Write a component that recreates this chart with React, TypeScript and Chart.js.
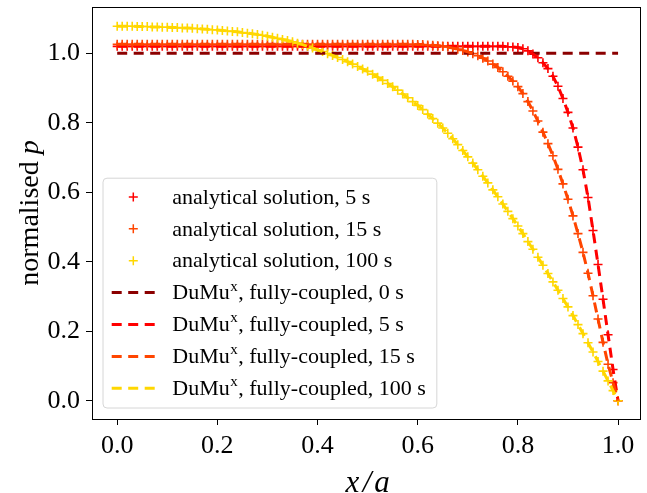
import React, { useEffect, useRef } from 'react';
import { Chart, registerables } from 'chart.js';

Chart.register(...registerables);

// ---------- data ----------
const xGrid = [
  0.00, 0.01, 0.02, 0.03, 0.04, 0.05, 0.06, 0.07, 0.08, 0.09,
  0.10, 0.11, 0.12, 0.13, 0.14, 0.15, 0.16, 0.17, 0.18, 0.19,
  0.20, 0.21, 0.22, 0.23, 0.24, 0.25, 0.26, 0.27, 0.28, 0.29,
  0.30, 0.31, 0.32, 0.33, 0.34, 0.35, 0.36, 0.37, 0.38, 0.39,
  0.40, 0.41, 0.42, 0.43, 0.44, 0.45, 0.46, 0.47, 0.48, 0.49,
  0.50, 0.51, 0.52, 0.53, 0.54, 0.55, 0.56, 0.57, 0.58, 0.59,
  0.60, 0.61, 0.62, 0.63, 0.64, 0.65, 0.66, 0.67, 0.68, 0.69,
  0.70, 0.71, 0.72, 0.73, 0.74, 0.75, 0.76, 0.77, 0.78, 0.79,
  0.80, 0.81, 0.82, 0.83, 0.84, 0.85, 0.86, 0.87, 0.88, 0.89,
  0.90, 0.91, 0.92, 0.93, 0.94, 0.95, 0.96, 0.97, 0.98, 0.99,
  1.00,
];

const analytical5s = [
  1.020, 1.020, 1.020, 1.020, 1.020, 1.020, 1.020, 1.020, 1.020, 1.020,
  1.020, 1.020, 1.020, 1.020, 1.020, 1.020, 1.020, 1.020, 1.020, 1.020,
  1.020, 1.020, 1.020, 1.020, 1.020, 1.020, 1.020, 1.020, 1.020, 1.020,
  1.020, 1.020, 1.020, 1.020, 1.020, 1.020, 1.020, 1.020, 1.020, 1.020,
  1.020, 1.020, 1.020, 1.020, 1.020, 1.020, 1.020, 1.020, 1.020, 1.020,
  1.020, 1.020, 1.020, 1.020, 1.020, 1.020, 1.020, 1.020, 1.020, 1.020,
  1.020, 1.020, 1.020, 1.020, 1.020, 1.020, 1.020, 1.020, 1.020, 1.020,
  1.020, 1.020, 1.020, 1.020, 1.020, 1.020, 1.020, 1.020, 1.019, 1.018,
  1.017, 1.013, 1.007, 0.998, 0.987, 0.973, 0.956, 0.934, 0.905, 0.870,
  0.830, 0.785, 0.730, 0.665, 0.585, 0.490, 0.392, 0.292, 0.190, 0.090,
  0.000,
];

const analytical15s = [
  1.026, 1.026, 1.026, 1.026, 1.026, 1.026, 1.026, 1.026, 1.026, 1.026,
  1.026, 1.026, 1.026, 1.026, 1.026, 1.026, 1.026, 1.026, 1.026, 1.026,
  1.026, 1.026, 1.026, 1.026, 1.026, 1.026, 1.026, 1.026, 1.026, 1.026,
  1.026, 1.026, 1.026, 1.026, 1.026, 1.026, 1.026, 1.026, 1.026, 1.026,
  1.026, 1.026, 1.026, 1.026, 1.026, 1.026, 1.026, 1.026, 1.026, 1.026,
  1.026, 1.026, 1.026, 1.026, 1.026, 1.026, 1.026, 1.026, 1.026, 1.026,
  1.025, 1.025, 1.024, 1.023, 1.022, 1.020, 1.018, 1.015, 1.012, 1.008,
  1.004, 0.999, 0.993, 0.986, 0.978, 0.969, 0.959, 0.947, 0.934, 0.920,
  0.904, 0.884, 0.861, 0.834, 0.805, 0.773, 0.740, 0.705, 0.666, 0.624,
  0.580, 0.532, 0.481, 0.427, 0.367, 0.302, 0.235, 0.168, 0.105, 0.052,
  0.000,
];

const analytical100s = [
  1.078, 1.078, 1.078, 1.078, 1.077, 1.077, 1.077, 1.076, 1.076, 1.075,
  1.075, 1.074, 1.074, 1.073, 1.073, 1.072, 1.071, 1.070, 1.069, 1.068,
  1.067, 1.066, 1.064, 1.063, 1.062, 1.060, 1.058, 1.056, 1.054, 1.052,
  1.049, 1.046, 1.043, 1.040, 1.037, 1.033, 1.029, 1.025, 1.020, 1.015,
  1.010, 1.005, 0.999, 0.994, 0.988, 0.982, 0.976, 0.969, 0.962, 0.955,
  0.948, 0.940, 0.931, 0.922, 0.913, 0.904, 0.894, 0.883, 0.872, 0.861,
  0.850, 0.838, 0.825, 0.812, 0.799, 0.785, 0.770, 0.754, 0.737, 0.720,
  0.702, 0.684, 0.665, 0.646, 0.627, 0.607, 0.587, 0.566, 0.545, 0.524,
  0.503, 0.481, 0.458, 0.436, 0.413, 0.390, 0.366, 0.342, 0.318, 0.294,
  0.270, 0.245, 0.219, 0.193, 0.167, 0.140, 0.113, 0.085, 0.057, 0.029,
  0.000,
];

// DuMux fully-coupled results (coincide with the analytical curves)
const dumux0sX = [0.0, 1.0];
const dumux0s = [1.0, 1.0];
const dumux5s = analytical5s;
const dumux15s = analytical15s;
const dumux100s = analytical100s;

const xTickValues = [0.0, 0.2, 0.4, 0.6, 0.8, 1.0];
const xTickLabels = ['0.0', '0.2', '0.4', '0.6', '0.8', '1.0'];
const yTickValues = [0.0, 0.2, 0.4, 0.6, 0.8, 1.0];
const yTickLabels = ['0.0', '0.2', '0.4', '0.6', '0.8', '1.0'];

const legendLabels = [
  'analytical solution, 5 s',
  'analytical solution, 15 s',
  'analytical solution, 100 s',
  ', fully-coupled, 0 s',
  ', fully-coupled, 5 s',
  ', fully-coupled, 15 s',
  ', fully-coupled, 100 s',
];

// ---------- styles ----------
const C_DARKRED = '#8b0000';
const C_RED = '#ff0000';
const C_ORANGERED = '#ff4500';
const C_GOLD = '#ffd700';
const SERIF = '"Liberation Serif", "DejaVu Serif", serif';

const X_MIN = -0.0503;
const X_MAX = 1.0456;
const Y_MIN = -0.0527;
const Y_MAX = 1.1333;

const DASH = [10, 6.5];

function pts(xs: number[], ys: number[]) {
  return xs.map((x, i) => ({ x, y: ys[i] }));
}

const legendItems = [
  { kind: 'marker', color: C_RED, dumux: false, text: legendLabels[0] },
  { kind: 'marker', color: C_ORANGERED, dumux: false, text: legendLabels[1] },
  { kind: 'marker', color: C_GOLD, dumux: false, text: legendLabels[2] },
  { kind: 'line', color: C_DARKRED, dumux: true, text: legendLabels[3] },
  { kind: 'line', color: C_RED, dumux: true, text: legendLabels[4] },
  { kind: 'line', color: C_ORANGERED, dumux: true, text: legendLabels[5] },
  { kind: 'line', color: C_GOLD, dumux: true, text: legendLabels[6] },
];

const decorPlugin = {
  id: 'decor',
  afterDraw(chart: any) {
    const ctx: CanvasRenderingContext2D = chart.ctx;
    const ca = chart.chartArea;
    ctx.save();

    // frame
    ctx.strokeStyle = '#000';
    ctx.lineWidth = 1;
    ctx.setLineDash([]);
    ctx.strokeRect(Math.round(ca.left) + 0.5, Math.round(ca.top) + 0.5,
      Math.round(ca.right) - Math.round(ca.left) - 1, Math.round(ca.bottom) - Math.round(ca.top));

    // legend
    const legFont = `22px ${SERIF}`;
    const supFont = `15px ${SERIF}`;
    ctx.font = legFont;
    const boxLeft = ca.left + 11;
    const boxBottom = ca.bottom - 11;
    const rowGap = 31.9;
    const n = legendItems.length;
    const lastRowY = boxBottom - 19.7;
    const firstRowY = lastRowY - (n - 1) * rowGap;
    const boxTop = firstRowY - 18.7;
    const textX = boxLeft + 69.3;
    let maxW = 0;
    legendItems.forEach((it) => {
      let w = 0;
      if (it.dumux) {
        ctx.font = legFont;
        w += ctx.measureText('DuMu').width;
        ctx.font = supFont;
        w += ctx.measureText('x').width + 1;
        ctx.font = legFont;
        w += ctx.measureText(it.text).width;
      } else {
        ctx.font = legFont;
        w = ctx.measureText(it.text).width;
      }
      maxW = Math.max(maxW, w);
    });
    const boxRight = textX + maxW + 11;
    const r = 4;
    ctx.beginPath();
    ctx.moveTo(boxLeft + r, boxTop);
    ctx.lineTo(boxRight - r, boxTop);
    ctx.arcTo(boxRight, boxTop, boxRight, boxTop + r, r);
    ctx.lineTo(boxRight, boxBottom - r);
    ctx.arcTo(boxRight, boxBottom, boxRight - r, boxBottom, r);
    ctx.lineTo(boxLeft + r, boxBottom);
    ctx.arcTo(boxLeft, boxBottom, boxLeft, boxBottom - r, r);
    ctx.lineTo(boxLeft, boxTop + r);
    ctx.arcTo(boxLeft, boxTop, boxLeft + r, boxTop, r);
    ctx.closePath();
    ctx.fillStyle = 'rgba(255,255,255,0.8)';
    ctx.fill();
    ctx.strokeStyle = '#d6d6d6';
    ctx.lineWidth = 1;
    ctx.stroke();

    legendItems.forEach((it, i) => {
      const y = firstRowY + i * rowGap;
      if (it.kind === 'marker') {
        const cx = boxLeft + 30.3;
        ctx.strokeStyle = it.color;
        ctx.lineWidth = 1.5;
        ctx.setLineDash([]);
        ctx.beginPath();
        ctx.moveTo(cx - 4.5, y);
        ctx.lineTo(cx + 4.5, y);
        ctx.moveTo(cx, y - 4.5);
        ctx.lineTo(cx, y + 4.5);
        ctx.stroke();
      } else {
        ctx.strokeStyle = it.color;
        ctx.lineWidth = 3;
        ctx.setLineDash(DASH);
        ctx.beginPath();
        ctx.moveTo(boxLeft + 8.7, y);
        ctx.lineTo(boxLeft + 52, y);
        ctx.stroke();
        ctx.setLineDash([]);
      }
      ctx.fillStyle = '#000';
      ctx.textBaseline = 'middle';
      ctx.textAlign = 'left';
      let x = textX;
      if (it.dumux) {
        ctx.font = legFont;
        ctx.fillText('DuMu', x, y + 1);
        x += ctx.measureText('DuMu').width + 0.5;
        ctx.font = supFont;
        ctx.fillText('x', x, y - 6);
        x += ctx.measureText('x').width + 0.5;
        ctx.font = legFont;
        ctx.fillText(it.text, x, y + 1);
      } else {
        ctx.font = legFont;
        ctx.fillText(it.text, x, y + 1);
      }
    });

    // x-axis title: x/a
    ctx.fillStyle = '#000';
    ctx.font = `italic 31px ${SERIF}`;
    ctx.textAlign = 'center';
    ctx.textBaseline = 'alphabetic';
    const midX = (ca.left + ca.right) / 2;
    const baseY = 492;
    ctx.fillText('x', midX - 14, baseY);
    ctx.fillText('/', midX + 0.5, baseY);
    ctx.fillText('a', midX + 15.5, baseY);

    // y-axis title: normalised p
    ctx.translate(38, (ca.top + ca.bottom) / 2);
    ctx.rotate(-Math.PI / 2);
    ctx.textAlign = 'left';
    ctx.font = `28px ${SERIF}`;
    const w1 = ctx.measureText('normalised ').width;
    ctx.font = `italic 28px ${SERIF}`;
    const w2 = ctx.measureText('p').width;
    const start = -(w1 + w2) / 2;
    ctx.font = `28px ${SERIF}`;
    ctx.fillText('normalised ', start, 0);
    ctx.font = `italic 28px ${SERIF}`;
    ctx.fillText('p', start + w1, 0);

    ctx.restore();
  },
};

export default function App() {
  const canvasRef = useRef<HTMLCanvasElement | null>(null);

  useEffect(() => {
    const canvas = canvasRef.current;
    if (!canvas) return;

    const analytic = (data: number[], color: string) => ({
      data: pts(xGrid, data),
      showLine: false,
      pointStyle: 'cross',
      pointRadius: 4.5,
      pointHoverRadius: 4.5,
      pointBorderWidth: 1.6,
      pointBorderColor: color,
      pointBackgroundColor: color,
      borderColor: color,
    });
    const dumux = (xs: number[], data: number[], color: string) => ({
      data: pts(xs, data),
      showLine: true,
      pointRadius: 0,
      pointHoverRadius: 0,
      borderColor: color,
      borderWidth: 3,
      borderDash: DASH,
      tension: 0,
      fill: false,
    });

    const chart = new Chart(canvas, {
      type: 'scatter',
      data: {
        // index 0 is drawn on top (matches matplotlib plotting order)
        datasets: [
          dumux(xGrid, dumux100s, C_GOLD),
          dumux(xGrid, dumux15s, C_ORANGERED),
          dumux(xGrid, dumux5s, C_RED),
          dumux(dumux0sX, dumux0s, C_DARKRED),
          analytic(analytical100s, C_GOLD),
          analytic(analytical15s, C_ORANGERED),
          analytic(analytical5s, C_RED),
        ] as any,
      },
      options: {
        animation: false,
        responsive: false,
        events: [],
        layout: { padding: { left: 0, top: 7, right: 2, bottom: 0 } },
        plugins: {
          legend: { display: false },
          tooltip: { enabled: false },
        },
        scales: {
          x: {
            type: 'linear',
            min: X_MIN,
            max: X_MAX,
            afterFit: (s: any) => { s.height = 74; },
            afterBuildTicks: (s: any) => { s.ticks = xTickValues.map((v) => ({ value: v })); },
            ticks: {
              callback: (_v: any, i: number) => xTickLabels[i],
              font: { family: SERIF, size: 26 },
              color: '#000',
              padding: 6,
              maxRotation: 0,
              autoSkip: false,
            },
            grid: { drawOnChartArea: false, tickLength: 6, tickColor: '#000', tickWidth: 1 },
            border: { display: false },
          },
          y: {
            type: 'linear',
            min: Y_MIN,
            max: Y_MAX,
            afterFit: (s: any) => { s.width = 92; },
            afterBuildTicks: (s: any) => { s.ticks = yTickValues.map((v) => ({ value: v })); },
            ticks: {
              callback: (_v: any, i: number) => yTickLabels[i],
              font: { family: SERIF, size: 26, lineHeight: 0.02 },
              color: '#000',
              padding: 6,
              autoSkip: false,
            },
            grid: { drawOnChartArea: false, tickLength: 6, tickColor: '#000', tickWidth: 1 },
            border: { display: false },
          },
        },
      } as any,
      plugins: [decorPlugin],
    });

    return () => chart.destroy();
  }, []);

  return (
    <div style={{ position: 'absolute', left: 0, top: 0, width: 647, height: 493, background: '#fff' }}>
      <canvas ref={canvasRef} width={647} height={493} style={{ display: 'block' }} />
    </div>
  );
}
